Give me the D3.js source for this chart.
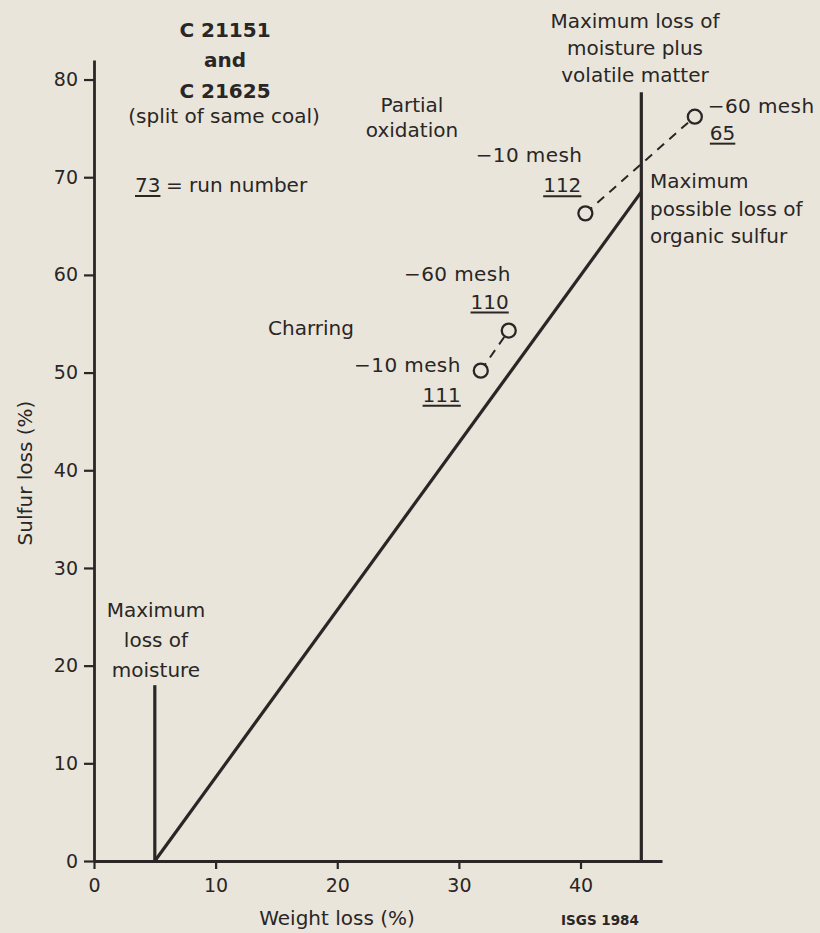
<!DOCTYPE html>
<html>
<head>
<meta charset="utf-8">
<script src="https://cdn.jsdelivr.net/npm/d3@7/dist/d3.min.js"></script>
<style>
body { margin: 0; background: #e9e5da; }
svg text { font-family: "DejaVu Sans", sans-serif; fill: #2a2626; }
.axis path, .axis line { stroke: #2a2626; }
</style>
</head>
<body>
<div id="chart"></div>
<script>
// axis ticks
var xTicks = [0, 10, 20, 30, 40];
var yTicks = [0, 10, 20, 30, 40, 50, 60, 70, 80];

// runs (weight loss %, sulfur loss %)
var runNumbers = ["111", "110", "112", "65"];
var runMesh = ["\u221210 mesh", "\u221260 mesh", "\u221210 mesh", "\u221260 mesh"];
var runWeight = [31.8, 34.1, 40.4, 49.4];
var runSulfur = [50.2, 54.3, 66.3, 76.2];
var runPairs = [[0, 1], [2, 3]];

// reference lines
var moistureWeight = [5, 5];
var moistureSulfur = [0, 18];
var volatileWeight = [45, 45];
var volatileSulfur = [0, 78.7];
var organicWeight = [5, 45];
var organicSulfur = [0, 68.5];

var ink = "#2a2626", paper = "#e9e5da";
var width = 820, height = 933;

var svg = d3.select("#chart").append("svg")
    .attr("width", width)
    .attr("height", height);

var x = d3.scaleLinear().domain([0, 46.7]).range([94, 662]);
var y = d3.scaleLinear().domain([0, 82]).range([861, 60]);

// axes
svg.append("g")
    .attr("class", "axis")
    .attr("transform", "translate(0," + y(0) + ")")
    .call(d3.axisBottom(x).tickValues(xTicks).tickSize(8).tickSizeOuter(0).tickPadding(10));

svg.append("g")
    .attr("class", "axis")
    .attr("transform", "translate(" + x(0) + ",0)")
    .call(d3.axisLeft(y).tickValues(yTicks).tickSize(10).tickSizeOuter(0).tickPadding(6));

svg.selectAll(".axis path").attr("stroke-width", 2.8);
svg.selectAll(".axis line").attr("stroke-width", 2.2);
svg.selectAll(".axis text").attr("font-size", 19).attr("fill", ink)
    .style("font-family", "DejaVu Sans, sans-serif");

// axis titles
svg.append("text")
    .attr("x", 337).attr("y", 925)
    .attr("text-anchor", "middle")
    .attr("font-size", 20)
    .text("Weight loss (%)");

svg.append("text")
    .attr("transform", "translate(32,473) rotate(-90)")
    .attr("text-anchor", "middle")
    .attr("font-size", 20)
    .text("Sulfur loss (%)");

svg.append("text")
    .attr("x", 600).attr("y", 925)
    .attr("text-anchor", "middle")
    .attr("font-size", 13.5)
    .attr("font-weight", "bold")
    .text("ISGS 1984");

// reference lines
var line = d3.line()
    .x(function (d) { return x(d[0]); })
    .y(function (d) { return y(d[1]); });

function drawRef(ws, ss) {
    svg.append("path")
        .attr("d", line(d3.zip(ws, ss)))
        .attr("stroke", ink)
        .attr("stroke-width", 3.2)
        .attr("fill", "none");
}
drawRef(moistureWeight, moistureSulfur);
drawRef(volatileWeight, volatileSulfur);
drawRef(organicWeight, organicSulfur);

// dashed links between paired runs
runPairs.forEach(function (p) {
    svg.append("line")
        .attr("x1", x(runWeight[p[0]])).attr("y1", y(runSulfur[p[0]]))
        .attr("x2", x(runWeight[p[1]])).attr("y2", y(runSulfur[p[1]]))
        .attr("stroke", ink)
        .attr("stroke-width", 2)
        .attr("stroke-dasharray", "9,7");
});

svg.selectAll("circle.run")
    .data(runNumbers)
    .enter().append("circle")
    .attr("class", "run")
    .attr("cx", function (d, i) { return x(runWeight[i]); })
    .attr("cy", function (d, i) { return y(runSulfur[i]); })
    .attr("r", 7)
    .attr("fill", paper)
    .attr("stroke", ink)
    .attr("stroke-width", 2.3);

// underlined text helper
function underlined(tx, ty, str, anchor, size) {
    var t = svg.append("text")
        .attr("x", tx).attr("y", ty)
        .attr("text-anchor", anchor)
        .attr("font-size", size)
        .text(str);
    var b = t.node().getBBox();
    svg.append("line")
        .attr("x1", b.x).attr("x2", b.x + b.width)
        .attr("y1", ty + 4).attr("y2", ty + 4)
        .attr("stroke", ink)
        .attr("stroke-width", 2);
    return t;
}

// run labels, placed relative to each circle
var meshOffset = [[-20, 1, "end"], [2, -50, "end"], [-3, -51, "end"], [13, -4, "start"]];
var numOffset = [[-20, 31, "end"], [0, -22, "end"], [-4, -21, "end"], [15, 23, "start"]];
runNumbers.forEach(function (r, i) {
    var cx = x(runWeight[i]), cy = y(runSulfur[i]);
    svg.append("text")
        .attr("x", cx + meshOffset[i][0]).attr("y", cy + meshOffset[i][1])
        .attr("text-anchor", meshOffset[i][2])
        .attr("font-size", 20)
        .attr("letter-spacing", 0.4)
        .text(runMesh[i]);
    underlined(cx + numOffset[i][0], cy + numOffset[i][1], r, numOffset[i][2], 20);
});

// notes
function block(lines, tx, ty, step, anchor, weight) {
    var t = svg.append("text")
        .attr("x", tx).attr("y", ty)
        .attr("text-anchor", anchor)
        .attr("font-size", 20)
        .attr("font-weight", weight || "normal");
    lines.forEach(function (s, i) {
        t.append("tspan").attr("x", tx).attr("dy", i ? step : 0).text(s);
    });
}

block(["C 21151"], 225, 37, 0, "middle", "bold");
block(["and"], 225, 67, 0, "middle", "bold");
block(["C 21625"], 225, 98, 0, "middle", "bold");
block(["(split of same coal)"], 224, 123, 0, "middle");

underlined(135, 192, "73", "start", 20);
svg.append("text").attr("x", 166).attr("y", 192).attr("font-size", 20).text("= run number");

block(["Partial", "oxidation"], 412, 112, 25, "middle");
block(["Charring"], 268, 335, 0, "start");
block(["Maximum loss of", "moisture plus", "volatile matter"], 635, 28, 27, "middle");
block(["Maximum", "possible loss of", "organic sulfur"], 650, 188, 27.5, "start");
block(["Maximum", "loss of", "moisture"], 156, 617, 30, "middle");
</script>
</body>
</html>
